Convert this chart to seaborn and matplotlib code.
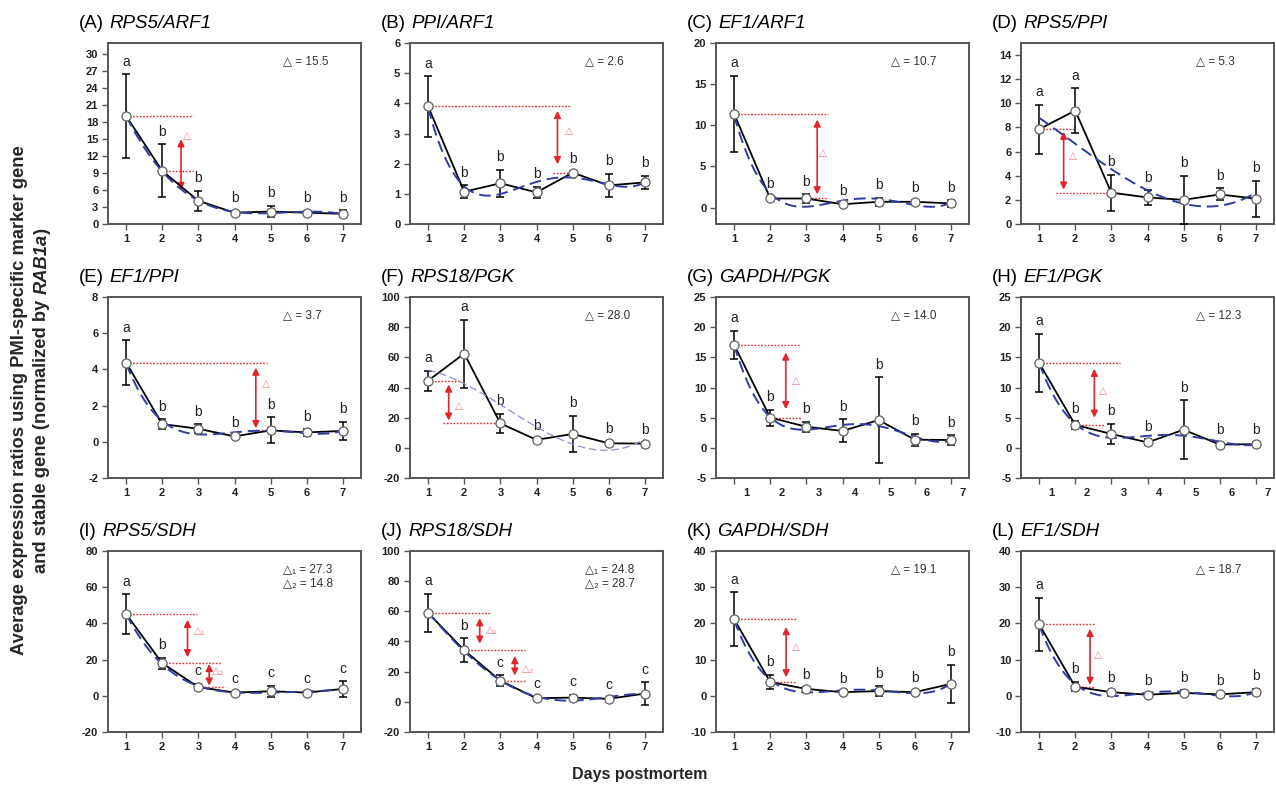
import matplotlib
matplotlib.use("Agg")
import matplotlib.pyplot as plt
import matplotlib.transforms as mtransforms
from matplotlib.offsetbox import TextArea, HPacker, AnnotationBbox
import numpy as np
import seaborn as sns

# --- data (means, SD, significance letters) ---
days = [1, 2, 3, 4, 5, 6, 7]

A_mean = [19.1, 9.4, 4.1, 2.0, 2.2, 2.0, 1.8]
A_sd = [7.4, 4.7, 1.8, 0.3, 1.0, 0.3, 0.6]
B_mean = [3.9, 1.07, 1.35, 1.05, 1.7, 1.28, 1.38]
B_sd = [1.0, 0.22, 0.45, 0.18, 0.05, 0.38, 0.22]
C_mean = [11.4, 1.1, 1.1, 0.4, 0.7, 0.7, 0.5]
C_sd = [4.6, 0.2, 0.5, 0.1, 0.5, 0.2, 0.4]
D_mean = [7.85, 9.4, 2.6, 2.2, 2.0, 2.45, 2.1]
D_sd = [2.05, 1.85, 1.5, 0.6, 2.0, 0.5, 1.5]
E_mean = [4.38, 0.98, 0.72, 0.3, 0.63, 0.52, 0.6]
E_sd = [1.22, 0.27, 0.25, 0.05, 0.72, 0.18, 0.5]
F_mean = [44.5, 62.5, 16.2, 5.3, 9.2, 3.0, 2.8]
F_sd = [6.5, 22.5, 6.2, 1.0, 12.2, 1.0, 1.0]
G_mean = [17.1, 5.0, 3.5, 2.8, 4.6, 1.35, 1.3]
G_sd = [2.3, 1.3, 0.8, 1.9, 7.1, 1.0, 0.8]
H_mean = [14.1, 3.8, 2.3, 0.9, 3.0, 0.55, 0.6]
H_sd = [4.8, 0.6, 1.7, 0.5, 4.9, 0.3, 0.3]
I_mean = [45.2, 18.0, 4.8, 1.8, 2.5, 1.8, 3.8]
I_sd = [11.0, 3.0, 1.7, 0.5, 3.0, 0.5, 4.2]
J_mean = [59.0, 34.2, 14.0, 2.4, 2.8, 2.0, 5.5]
J_sd = [12.8, 8.0, 3.5, 0.8, 1.7, 0.6, 7.5]
K_mean = [21.2, 3.8, 1.9, 1.0, 1.3, 1.0, 3.3]
K_sd = [7.4, 2.0, 0.5, 0.3, 1.3, 0.4, 5.2]
L_mean = [19.8, 2.5, 1.0, 0.3, 0.8, 0.4, 1.0]
L_sd = [7.3, 1.3, 0.4, 0.2, 0.7, 0.2, 0.9]

letters_ab = ["a", "b", "b", "b", "b", "b", "b"]
letters_aab = ["a", "a", "b", "b", "b", "b", "b"]
letters_abc = ["a", "b", "c", "c", "c", "c", "c"]

titles = [("A", "RPS5/ARF1"), ("B", "PPI/ARF1"), ("C", "EF1/ARF1"), ("D", "RPS5/PPI"),
          ("E", "EF1/PPI"), ("F", "RPS18/PGK"), ("G", "GAPDH/PGK"), ("H", "EF1/PGK"),
          ("I", "RPS5/SDH"), ("J", "RPS18/SDH"), ("K", "GAPDH/SDH"), ("L", "EF1/SDH")]
delta_texts = ["△ = 15.5", "△ = 2.6", "△ = 10.7", "△ = 5.3",
               "△ = 3.7", "△ = 28.0", "△ = 14.0", "△ = 12.3",
               "△₁ = 27.3\n△₂ = 14.8", "△₁ = 24.8\n△₂ = 28.7", "△ = 19.1", "△ = 18.7"]

means = [A_mean, B_mean, C_mean, D_mean, E_mean, F_mean, G_mean, H_mean, I_mean, J_mean, K_mean, L_mean]
sds = [A_sd, B_sd, C_sd, D_sd, E_sd, F_sd, G_sd, H_sd, I_sd, J_sd, K_sd, L_sd]
letters = [letters_ab, letters_ab, letters_ab, letters_aab, letters_ab, letters_aab,
           letters_ab, letters_ab, letters_abc, letters_abc, letters_ab, letters_ab]

# --- per-panel axes setup ---
ylims = [(0, 32), (0, 6), (-2, 20), (0, 15), (-2, 8), (-20, 100),
         (-5, 25), (-5, 25), (-20, 80), (-20, 100), (-10, 40), (-10, 40)]
ysteps = [3, 1, 5, 2, 2, 20, 5, 5, 20, 20, 10, 10]
fit_order = [4, 4, 4, 3, 4, 3, 4, 4, 4, 4, 4, 4]

# red delta guides: dotted lines (index of mean, x start, x end) and arrows (x, y top, y bottom, label, label x, label y)
guides = [
    ([(0, 1, 2.85), (1, 2, 2.85)], [(2.52, 15.0, 6.0, "△", 2.68, 15.5)]),
    ([(0, 1, 4.94), (4, 4.47, 5)], [(4.58, 3.75, 1.98, "△", 4.9, 3.08)]),
    ([(0, 1, 3.6), (2, 3.05, 3.6)], [(3.3, 10.7, 1.6, "△", 3.47, 6.6)]),
    ([(0, 1, 1.98), (2, 1.48, 3)], [(1.68, 7.65, 2.85, "△", 1.93, 5.6)]),
    ([(0, 1, 4.9), (4, 4.37, 5)], [(4.59, 4.1, 0.75, "△", 4.88, 3.2)]),
    ([(0, 1.08, 1.92), (2, 1.42, 3)], [(1.57, 42, 18, "△", 1.86, 28)]),
    ([(0, 1, 2.79), (1, 2.05, 2.85)], [(2.43, 15.8, 6.4, "△", 2.7, 11.1)]),
    ([(0, 1, 3.25), (1, 2, 2.8)], [(2.53, 13.1, 5.0, "△", 2.77, 9.4)]),
    ([(0, 1, 2.95), (1, 2, 3.64), (2, 3.0, 3.75)],
     [(2.7, 42, 21.3, "△₁", 3.05, 36), (3.3, 17.6, 5.6, "△₂", 3.54, 13.5)]),
    ([(0, 1, 2.73), (1, 2, 3.68), (2, 3, 3.68)],
     [(2.43, 55.5, 38.5, "△₁", 2.77, 47.3), (3.4, 30.4, 17.4, "△₂", 3.77, 22)]),
    ([(0, 1, 2.7), (1, 2, 2.7)], [(2.44, 19, 5.1, "△", 2.7, 13.4)]),
    ([(0, 1, 2.54), (1, 2, 2.54)], [(2.41, 18.5, 3.0, "△", 2.63, 11.4)]),
]

sns.set_style("ticks")
plt.rcParams["font.family"] = ["Liberation Sans", "DejaVu Sans"]

W, H = 1276, 791
fig = plt.figure(figsize=(W / 100, H / 100), dpi=100)

col_left = [108, 410, 716, 1021]
row_top = [43, 297, 551]
ax_w, ax_h = 253, 181

red = "#e0262c"
blue = "#2f3d9e"
title_font = ["Liberation Sans", "DejaVu Sans"]

for k in range(12):
    r, c = divmod(k, 4)
    ax = fig.add_axes([col_left[c] / W, 1 - (row_top[r] + ax_h) / H, ax_w / W, ax_h / H])
    m = np.array(means[k])
    s = np.array(sds[k])

    # black mean line with white markers
    ax.errorbar(days, m, yerr=s, fmt="none", ecolor="black", elinewidth=1.1,
                capsize=3, capthick=1.1, zorder=3)
    sns.lineplot(x=days, y=m, ax=ax, color="black", lw=1.3, zorder=4,
                 marker="o", markersize=6, markerfacecolor="white",
                 markeredgecolor="#666666", markeredgewidth=0.9)
    # fitted polynomial trend (dashed)
    fit_color = "#8c8fd0" if k == 5 else blue
    fit_lw = 0.9 if k == 5 else 1.4
    sns.regplot(x=np.array(days, dtype=float), y=m, ax=ax, order=fit_order[k], scatter=False,
                ci=None, truncate=True,
                line_kws=dict(color=fit_color, lw=fit_lw, ls=(0, (6, 3)), zorder=5))
    ax.plot(days, m, "o", ms=6.5, mfc="white", mec="#666666", mew=0.9, zorder=6)

    # significance letters
    for d, val, sd, let in zip(days, m, s, letters[k]):
        ax.annotate(let, xy=(d, val + sd), xytext=(0, 4), textcoords="offset points",
                    ha="center", va="bottom", fontsize=10, color="#222222")

    # red delta guides
    lines, arrows = guides[k]
    for idx, x0, x1 in lines:
        ax.plot([x0, x1], [m[idx], m[idx]], color=red, ls=(0, (1.2, 1.2)), lw=1.0, zorder=2)
    for ax_x, y_top, y_bot, lab, lx, ly in arrows:
        ax.annotate("", xy=(ax_x, y_bot), xytext=(ax_x, y_top),
                    arrowprops=dict(arrowstyle="<|-|>", color=red, lw=1.2,
                                    mutation_scale=10, shrinkA=0, shrinkB=0), zorder=2)
        ax.text(lx, ly, lab, color="#f08080", fontsize=7.5, ha="center", va="center")

    ax.text(0.69, 0.935, delta_texts[k], transform=ax.transAxes, fontsize=8.5,
            ha="left", va="top", color="#333333", linespacing=1.25)

    # axes styling
    lo, hi = ylims[k]
    ax.set_xlim(0.5, 7.5)
    ax.set_ylim(lo, hi)
    yt = np.arange(lo if lo % ysteps[k] == 0 else 0, hi + 0.01, ysteps[k])
    yt = yt[yt >= lo]
    ax.set_yticks(yt)
    ax.set_yticklabels([f"{v:g}" for v in yt])
    ax.set_xticks(days)
    ax.set_xlabel("")
    ax.set_ylabel("")
    for sp in ax.spines.values():
        sp.set_visible(True)
        sp.set_color("#555555")
        sp.set_linewidth(1.4)
    ax.tick_params(axis="both", direction="out", length=4, width=1.0, color="#555555",
                   labelsize=8, pad=3, top=False, right=False)
    for lab in ax.get_xticklabels() + ax.get_yticklabels():
        lab.set_fontweight("bold")
        lab.set_color("#222222")
    if r == 1 and c >= 2:
        # tick labels in these panels sit slightly right of the ticks
        shift = mtransforms.ScaledTranslation(12 / 100, 0, fig.dpi_scale_trans)
        for lab in ax.get_xticklabels():
            lab.set_transform(lab.get_transform() + shift)

    # panel title: "(X)" upright, gene pair italic
    letter, gene = titles[k]
    t1 = TextArea(f"({letter})", textprops=dict(fontsize=13.5, family=title_font, color="black"))
    t2 = TextArea(gene, textprops=dict(fontsize=13.5, family=title_font, style="italic", color="black"))
    pack = HPacker(children=[t1, t2], align="baseline", pad=0, sep=4)
    ab = AnnotationBbox(pack, (0, 1), xycoords="axes fraction", xybox=(-21, 8),
                        boxcoords="offset points", box_alignment=(0, 0), frameon=False, pad=0)
    ax.add_artist(ab)

# y label: two rotated lines, second with bold-italic RAB1a
ylab_size = 13.2
fig.text(20 / W, 0.494, "Average expression ratios using PMI-specific marker gene",
         rotation=90, ha="center", va="center", fontsize=ylab_size, fontweight="bold")
renderer = fig.canvas.get_renderer()
pieces = [("and stable gene (normalized by ", "normal"), ("RAB1a", "italic"), (")", "normal")]
parts = []
for txt, st in pieces:
    t = fig.text(42 / W, 0, txt, rotation=90, ha="center", va="bottom", fontsize=ylab_size,
                 fontweight="bold", style=st)
    parts.append(t)
heights = [p.get_window_extent(renderer).height for p in parts]
y0 = 0.494 * H - sum(heights) / 2
for p, h in zip(parts, heights):
    p.set_y(y0 / H)
    y0 += h

fig.text(640 / W, 1 - 775 / H, "Days postmortem", ha="center", va="center",
         fontsize=11.5, fontweight="bold")

fig.savefig("out.png", dpi=100)
